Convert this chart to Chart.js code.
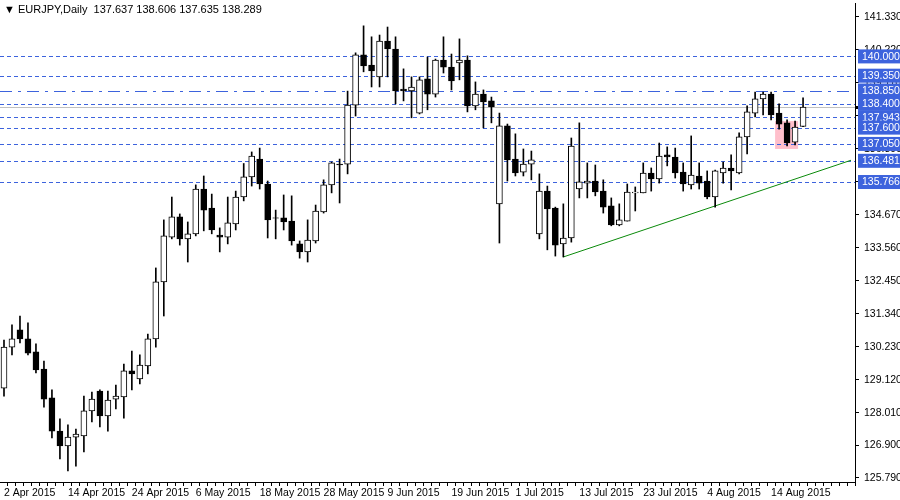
<!DOCTYPE html>
<html><head><meta charset="utf-8">
<script src="https://cdn.jsdelivr.net/npm/chart.js@4.4.1/dist/chart.umd.min.js"></script>
<style>html,body{margin:0;padding:0;background:#fff;}canvas{display:block;}</style>
</head><body>
<canvas id="c" width="900" height="500"></canvas>
<script>
const opens  = [128.82,130.20,130.78,130.48,130.04,129.46,128.49,127.37,126.87,127.17,127.21,128.05,128.72,127.88,128.45,128.52,129.40,129.13,129.57,130.48,132.40,133.91,134.59,133.85,134.02,135.53,134.89,133.98,133.91,134.35,135.26,135.94,136.54,135.70,134.56,134.56,134.45,133.68,133.41,133.78,134.76,135.67,136.37,136.37,138.36,140.05,139.71,139.31,140.52,140.25,138.90,138.84,138.09,139.24,138.73,139.88,139.64,139.78,139.88,138.33,138.73,138.50,135.03,137.66,136.54,136.10,136.37,134.02,135.46,134.89,133.68,133.88,135.53,135.73,135.80,135.46,134.96,134.32,134.45,135.40,135.40,136.07,135.87,136.68,136.61,136.10,135.67,135.97,135.80,135.26,136.07,136.24,136.07,137.29,138.09,138.57,138.73,138.09,137.76,137.11,137.637];
const highs  = [130.44,130.95,131.25,131.02,130.31,129.73,128.76,127.78,127.58,127.44,128.55,128.69,128.76,128.72,128.92,129.63,130.07,129.94,130.64,132.87,134.49,135.26,134.69,134.42,135.67,135.97,135.36,134.22,135.26,135.46,136.39,136.78,136.91,135.80,134.82,135.33,135.30,133.78,134.49,134.99,135.84,136.44,136.54,138.83,140.12,141.03,140.66,140.72,140.99,140.66,139.58,139.31,139.31,139.98,139.91,140.66,140.08,140.59,140.02,139.14,138.87,138.63,138.09,137.72,137.39,136.88,136.81,136.04,135.63,134.92,135.03,137.25,137.76,136.41,136.34,135.84,135.23,135.03,135.70,135.60,136.41,136.24,137.08,136.95,136.91,136.41,137.32,136.41,136.14,136.17,136.44,136.68,137.42,138.33,138.80,138.80,138.80,138.40,137.86,137.82,138.606];
const lows   = [128.55,129.94,130.34,129.94,129.33,128.18,127.14,126.43,126.03,126.19,126.67,127.68,127.51,127.37,128.12,127.81,128.76,128.96,129.30,130.20,131.25,133.85,133.64,133.07,133.95,134.12,134.02,133.41,133.68,134.15,135.13,135.63,135.53,133.88,133.85,134.15,133.64,133.20,133.07,133.71,134.72,135.40,135.06,136.04,137.99,139.48,138.97,138.97,139.31,138.40,138.50,137.93,138.06,138.20,138.63,139.44,138.87,139.21,138.13,138.20,137.59,137.76,133.71,135.80,135.97,135.97,135.84,133.85,133.48,133.27,133.24,133.74,135.23,135.23,135.30,134.72,134.29,134.29,134.45,134.79,135.40,135.46,135.73,136.31,135.90,135.46,135.53,135.53,135.20,134.92,135.73,135.50,136.04,136.71,137.96,138.03,137.86,137.55,136.98,137.02,137.635];
const closes = [130.20,130.48,130.48,130.00,129.43,128.45,127.37,126.87,127.17,127.27,128.05,128.45,127.88,128.42,128.55,129.40,129.30,129.60,130.48,132.40,133.95,134.59,133.85,134.02,135.53,134.82,134.15,133.91,134.39,135.26,135.94,136.64,135.70,134.49,134.55,134.42,133.78,133.41,133.81,134.79,135.67,136.41,136.34,138.36,140.05,139.68,139.51,140.52,140.25,138.84,138.84,138.97,139.21,138.73,139.88,139.64,139.17,139.88,138.33,138.73,138.47,138.30,137.66,136.51,136.07,136.37,136.51,135.46,134.86,133.64,133.88,136.98,135.77,135.80,135.43,134.92,134.32,134.49,135.43,135.43,136.07,135.87,136.64,136.61,136.07,135.70,136.00,135.73,135.26,136.14,136.24,136.14,137.29,138.13,138.57,138.73,138.03,137.72,137.08,137.62,138.289];
const tickIdx    = [0,8,16,24,32,40,48,56,64,72,80,88,96];
const tickLabels = ['2 Apr 2015','14 Apr 2015','24 Apr 2015','6 May 2015','18 May 2015','28 May 2015','9 Jun 2015','19 Jun 2015','1 Jul 2015','13 Jul 2015','23 Jul 2015','4 Aug 2015','14 Aug 2015'];
const priceTicks = [141.330,140.220,139.110,138.000,136.890,135.780,134.670,133.560,132.450,131.340,130.230,129.120,128.010,126.900,125.790];
const levels     = [140.000,139.350,138.850,138.400,137.943,137.600,137.050,136.481,135.766];
const trendIdx   = [70,106];
const trendVals  = [133.24,136.50];
const bidPrice   = 138.289;
const zoneIdx = [97,99], zoneVals = [136.88,137.82];

const SLOTS = 107;
const labels = Array.from({length:SLOTS},(_,i)=>{const k=tickIdx.indexOf(i);return k>=0?tickLabels[k]:'';});
const bodies = opens.map((o,i)=>[Math.min(o,closes[i]),Math.max(o,closes[i])]);
const wicks = highs.map((h,i)=>[lows[i],h]);
const bodyColors = opens.map((o,i)=>closes[i]>=o?'#ffffff':'#000000');
const trend = Array(SLOTS).fill(null); trend[trendIdx[0]]=trendVals[0]; trend[trendIdx[1]]=trendVals[1];
const blue='#3d63dd', font='"Liberation Sans", Arial, sans-serif';

const overlay={id:'overlay',
 beforeDatasetsDraw(ch){const c=ch.ctx,y=ch.scales.y,x=ch.scales.x,a=ch.chartArea;c.save();
  c.fillStyle='rgba(255,170,185,0.75)';
  const x0=x.getPixelForValue(zoneIdx[0])-4,x1=x.getPixelForValue(zoneIdx[1])+3;
  c.fillRect(x0,y.getPixelForValue(zoneVals[1]),x1-x0,y.getPixelForValue(zoneVals[0])-y.getPixelForValue(zoneVals[1]));
  c.strokeStyle='#c0c0c0';c.lineWidth=1;c.beginPath();const by=Math.round(y.getPixelForValue(bidPrice))+0.5;c.moveTo(a.left,by);c.lineTo(a.right,by);c.stroke();
  c.strokeStyle=blue;
  levels.forEach(v=>{const py=Math.round(y.getPixelForValue(v))+0.5;
   c.setLineDash(v===138.850?[12,6,3,6]:[4,3]);c.beginPath();c.moveTo(a.left,py);c.lineTo(a.right,py);c.stroke();});
  c.restore();},
 afterDraw(ch){const c=ch.ctx,y=ch.scales.y,a=ch.chartArea;c.save();
  c.font='10.5px '+font;c.textBaseline='middle';c.textAlign='left';c.fillStyle='#000';
  priceTicks.forEach(v=>{c.fillText(v.toFixed(3),a.right+9,y.getPixelForValue(v)+0.5);});
  const bx=Math.round(y.getPixelForValue(bidPrice));
  c.fillStyle='#000';c.fillRect(a.right+1,bx-1,44,3);
  levels.forEach(v=>{const py=y.getPixelForValue(v);
   c.fillStyle=blue;c.fillRect(a.right+3,py-7,42,14);
   c.fillStyle='#fff';c.fillText(v.toFixed(3),a.right+7,py+0.5);});
  c.fillStyle='#000';c.font='11px '+font;
  c.fillText('\u25BC EURJPY,Daily  137.637 138.606 137.635 138.289',4,10);
  c.restore();}};

new Chart(document.getElementById('c'),{
 type:'bar',
 data:{labels,datasets:[
  {data:bodies,backgroundColor:bodyColors,borderColor:'#000',borderWidth:1,barThickness:6,grouped:false,borderSkipped:false},
  {data:wicks,backgroundColor:'#000',barThickness:1,grouped:false},
  {type:'line',data:trend,borderColor:'#0a8a0a',borderWidth:1,pointRadius:0,spanGaps:true,clip:false}
 ]},
 options:{responsive:false,animation:false,devicePixelRatio:1,
  layout:{padding:{top:3,left:0,right:0,bottom:0}},
  plugins:{legend:{display:false},tooltip:{enabled:false}},
  scales:{
   x:{offset:true,grid:{display:true,drawOnChartArea:false,color:'#000',tickLength:4},
      border:{color:'#000'},
      ticks:{autoSkip:false,maxRotation:0,align:'start',padding:1,color:'#000',font:{family:font,size:10.5},
        callback:(v,i)=>labels[i]},
      afterFit(s){s.height=18;}},
   y:{position:'right',min:125.655,max:141.80,
      afterBuildTicks(s){s.ticks=priceTicks.map(v=>({value:v}));},
      grid:{drawOnChartArea:false,color:'#000',tickLength:4},border:{color:'#000'},
      ticks:{display:false},
      afterFit(s){s.width=45;}}
  }},
 plugins:[overlay]});
</script></body></html>
